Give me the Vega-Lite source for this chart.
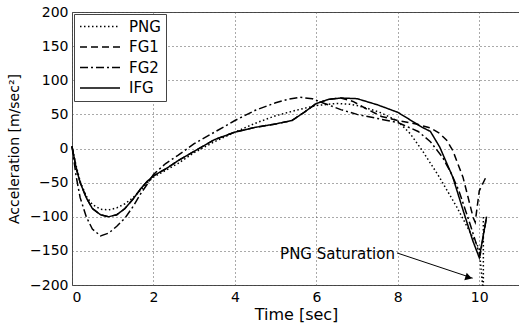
{
  "$schema": "https://vega.github.io/schema/vega-lite/v6.json",
  "width": 448,
  "height": 273,
  "autosize": {"type": "none"},
  "padding": {"left": 72, "top": 12, "right": 0, "bottom": 45},
  "background": "white",
  "config": {
    "view": {"stroke": "#444", "strokeWidth": 1},
    "axis": {
      "grid": true, "gridDash": [1, 3], "gridColor": "#555", "gridOpacity": 1,
      "domain": false, "ticks": false, "labelOverlap": false,
      "labelFont": "DejaVu Sans", "labelFontSize": 14, "labelColor": "black",
      "titleFont": "DejaVu Sans", "titleFontWeight": "normal", "titleColor": "black"
    }
  },
  "datasets": {
    "curves": [
      {"s": "PNG", "i": 1, "t": 0, "a": 3},
      {"s": "PNG", "i": 2, "t": 0.1, "a": -25},
      {"s": "PNG", "i": 3, "t": 0.2, "a": -48},
      {"s": "PNG", "i": 4, "t": 0.35, "a": -70},
      {"s": "PNG", "i": 5, "t": 0.5, "a": -82},
      {"s": "PNG", "i": 6, "t": 0.7, "a": -89},
      {"s": "PNG", "i": 7, "t": 0.9, "a": -90},
      {"s": "PNG", "i": 8, "t": 1.1, "a": -87},
      {"s": "PNG", "i": 9, "t": 1.3, "a": -81},
      {"s": "PNG", "i": 10, "t": 1.5, "a": -72},
      {"s": "PNG", "i": 11, "t": 1.7, "a": -60},
      {"s": "PNG", "i": 12, "t": 1.85, "a": -50},
      {"s": "PNG", "i": 13, "t": 2.0, "a": -42},
      {"s": "PNG", "i": 14, "t": 2.3, "a": -32},
      {"s": "PNG", "i": 15, "t": 2.6, "a": -22},
      {"s": "PNG", "i": 16, "t": 3.0, "a": -6},
      {"s": "PNG", "i": 17, "t": 3.5, "a": 10},
      {"s": "PNG", "i": 18, "t": 4.0, "a": 24},
      {"s": "PNG", "i": 19, "t": 4.5, "a": 37},
      {"s": "PNG", "i": 20, "t": 5.0, "a": 48},
      {"s": "PNG", "i": 21, "t": 5.5, "a": 56},
      {"s": "PNG", "i": 22, "t": 6.0, "a": 63},
      {"s": "PNG", "i": 23, "t": 6.5, "a": 66},
      {"s": "PNG", "i": 24, "t": 6.8, "a": 65},
      {"s": "PNG", "i": 25, "t": 7.0, "a": 63},
      {"s": "PNG", "i": 26, "t": 7.3, "a": 58},
      {"s": "PNG", "i": 27, "t": 7.6, "a": 52},
      {"s": "PNG", "i": 28, "t": 8.0, "a": 40},
      {"s": "PNG", "i": 29, "t": 8.3, "a": 22},
      {"s": "PNG", "i": 30, "t": 8.6, "a": -3},
      {"s": "PNG", "i": 31, "t": 9.0, "a": -40},
      {"s": "PNG", "i": 32, "t": 9.45, "a": -86},
      {"s": "PNG", "i": 33, "t": 9.75, "a": -120},
      {"s": "PNG", "i": 34, "t": 10.0, "a": -147},
      {"s": "PNG", "i": 35, "t": 10.08, "a": -200},
      {"s": "PNG", "i": 36, "t": 10.1, "a": -200},
      {"s": "PNG", "i": 37, "t": 10.1, "a": -100},

      {"s": "FG1", "i": 1, "t": 0, "a": 3},
      {"s": "FG1", "i": 2, "t": 0.1, "a": -28},
      {"s": "FG1", "i": 3, "t": 0.2, "a": -50},
      {"s": "FG1", "i": 4, "t": 0.35, "a": -72},
      {"s": "FG1", "i": 5, "t": 0.5, "a": -88},
      {"s": "FG1", "i": 6, "t": 0.7, "a": -97},
      {"s": "FG1", "i": 7, "t": 0.9, "a": -100},
      {"s": "FG1", "i": 8, "t": 1.1, "a": -97},
      {"s": "FG1", "i": 9, "t": 1.3, "a": -88},
      {"s": "FG1", "i": 10, "t": 1.5, "a": -74},
      {"s": "FG1", "i": 11, "t": 1.7, "a": -58},
      {"s": "FG1", "i": 12, "t": 1.85, "a": -48},
      {"s": "FG1", "i": 13, "t": 2.0, "a": -40},
      {"s": "FG1", "i": 14, "t": 2.3, "a": -30},
      {"s": "FG1", "i": 15, "t": 2.6, "a": -18},
      {"s": "FG1", "i": 16, "t": 3.0, "a": -4},
      {"s": "FG1", "i": 17, "t": 3.5, "a": 13},
      {"s": "FG1", "i": 18, "t": 4.0, "a": 24},
      {"s": "FG1", "i": 19, "t": 4.5, "a": 31},
      {"s": "FG1", "i": 20, "t": 5.0, "a": 36},
      {"s": "FG1", "i": 21, "t": 5.4, "a": 41},
      {"s": "FG1", "i": 22, "t": 5.7, "a": 53},
      {"s": "FG1", "i": 23, "t": 6.0, "a": 66},
      {"s": "FG1", "i": 24, "t": 6.3, "a": 72},
      {"s": "FG1", "i": 25, "t": 6.6, "a": 74},
      {"s": "FG1", "i": 26, "t": 6.9, "a": 69},
      {"s": "FG1", "i": 27, "t": 7.2, "a": 59},
      {"s": "FG1", "i": 28, "t": 7.6, "a": 47},
      {"s": "FG1", "i": 29, "t": 8.0, "a": 41},
      {"s": "FG1", "i": 30, "t": 8.45, "a": 36},
      {"s": "FG1", "i": 31, "t": 8.8, "a": 30},
      {"s": "FG1", "i": 32, "t": 9.03, "a": 22},
      {"s": "FG1", "i": 33, "t": 9.2, "a": 12},
      {"s": "FG1", "i": 34, "t": 9.35, "a": -3},
      {"s": "FG1", "i": 35, "t": 9.6, "a": -42},
      {"s": "FG1", "i": 36, "t": 9.85, "a": -101},
      {"s": "FG1", "i": 37, "t": 9.9, "a": -108},
      {"s": "FG1", "i": 38, "t": 10.0, "a": -62},
      {"s": "FG1", "i": 39, "t": 10.18, "a": -40},

      {"s": "FG2", "i": 1, "t": 0, "a": 3},
      {"s": "FG2", "i": 2, "t": 0.1, "a": -40},
      {"s": "FG2", "i": 3, "t": 0.2, "a": -72},
      {"s": "FG2", "i": 4, "t": 0.35, "a": -100},
      {"s": "FG2", "i": 5, "t": 0.5, "a": -118},
      {"s": "FG2", "i": 6, "t": 0.7, "a": -128},
      {"s": "FG2", "i": 7, "t": 0.9, "a": -124},
      {"s": "FG2", "i": 8, "t": 1.1, "a": -114},
      {"s": "FG2", "i": 9, "t": 1.3, "a": -102},
      {"s": "FG2", "i": 10, "t": 1.5, "a": -85},
      {"s": "FG2", "i": 11, "t": 1.7, "a": -65},
      {"s": "FG2", "i": 12, "t": 1.85, "a": -52},
      {"s": "FG2", "i": 13, "t": 2.0, "a": -38},
      {"s": "FG2", "i": 14, "t": 2.3, "a": -22},
      {"s": "FG2", "i": 15, "t": 2.6, "a": -10},
      {"s": "FG2", "i": 16, "t": 3.0, "a": 7},
      {"s": "FG2", "i": 17, "t": 3.5, "a": 24},
      {"s": "FG2", "i": 18, "t": 4.0, "a": 41},
      {"s": "FG2", "i": 19, "t": 4.5, "a": 56},
      {"s": "FG2", "i": 20, "t": 5.0, "a": 67},
      {"s": "FG2", "i": 21, "t": 5.3, "a": 72},
      {"s": "FG2", "i": 22, "t": 5.6, "a": 75},
      {"s": "FG2", "i": 23, "t": 5.9, "a": 73},
      {"s": "FG2", "i": 24, "t": 6.2, "a": 66},
      {"s": "FG2", "i": 25, "t": 6.6, "a": 57},
      {"s": "FG2", "i": 26, "t": 7.0, "a": 50},
      {"s": "FG2", "i": 27, "t": 7.5, "a": 44},
      {"s": "FG2", "i": 28, "t": 8.0, "a": 38},
      {"s": "FG2", "i": 29, "t": 8.5, "a": 25},
      {"s": "FG2", "i": 30, "t": 8.8, "a": 10},
      {"s": "FG2", "i": 31, "t": 9.1, "a": -13},
      {"s": "FG2", "i": 32, "t": 9.3, "a": -35},
      {"s": "FG2", "i": 33, "t": 9.5, "a": -62},
      {"s": "FG2", "i": 34, "t": 9.77, "a": -110},
      {"s": "FG2", "i": 35, "t": 9.97, "a": -148},
      {"s": "FG2", "i": 36, "t": 10.02, "a": -157},
      {"s": "FG2", "i": 37, "t": 10.18, "a": -100},

      {"s": "IFG", "i": 1, "t": 0, "a": 3},
      {"s": "IFG", "i": 2, "t": 0.1, "a": -28},
      {"s": "IFG", "i": 3, "t": 0.2, "a": -50},
      {"s": "IFG", "i": 4, "t": 0.35, "a": -72},
      {"s": "IFG", "i": 5, "t": 0.5, "a": -88},
      {"s": "IFG", "i": 6, "t": 0.7, "a": -97},
      {"s": "IFG", "i": 7, "t": 0.9, "a": -100},
      {"s": "IFG", "i": 8, "t": 1.1, "a": -97},
      {"s": "IFG", "i": 9, "t": 1.3, "a": -88},
      {"s": "IFG", "i": 10, "t": 1.5, "a": -74},
      {"s": "IFG", "i": 11, "t": 1.7, "a": -58},
      {"s": "IFG", "i": 12, "t": 1.85, "a": -48},
      {"s": "IFG", "i": 13, "t": 2.0, "a": -40},
      {"s": "IFG", "i": 14, "t": 2.3, "a": -30},
      {"s": "IFG", "i": 15, "t": 2.6, "a": -18},
      {"s": "IFG", "i": 16, "t": 3.0, "a": -4},
      {"s": "IFG", "i": 17, "t": 3.5, "a": 13},
      {"s": "IFG", "i": 18, "t": 4.0, "a": 24},
      {"s": "IFG", "i": 19, "t": 4.5, "a": 31},
      {"s": "IFG", "i": 20, "t": 5.0, "a": 36},
      {"s": "IFG", "i": 21, "t": 5.4, "a": 41},
      {"s": "IFG", "i": 22, "t": 5.7, "a": 53},
      {"s": "IFG", "i": 23, "t": 6.0, "a": 66},
      {"s": "IFG", "i": 24, "t": 6.3, "a": 72},
      {"s": "IFG", "i": 25, "t": 6.6, "a": 74},
      {"s": "IFG", "i": 26, "t": 7.0, "a": 73},
      {"s": "IFG", "i": 27, "t": 7.5, "a": 64},
      {"s": "IFG", "i": 28, "t": 8.0, "a": 53},
      {"s": "IFG", "i": 29, "t": 8.6, "a": 31},
      {"s": "IFG", "i": 30, "t": 8.8, "a": 25},
      {"s": "IFG", "i": 31, "t": 9.03, "a": 2},
      {"s": "IFG", "i": 32, "t": 9.35, "a": -42},
      {"s": "IFG", "i": 33, "t": 9.6, "a": -90},
      {"s": "IFG", "i": 34, "t": 9.84, "a": -135},
      {"s": "IFG", "i": 35, "t": 10.0, "a": -160},
      {"s": "IFG", "i": 36, "t": 10.18, "a": -100}
    ],
    "note": [{"t": 7.93, "a": -154, "label": "PNG Saturation"}],
    "arrow": [{"t": 7.98, "a": -153, "t2": 9.84, "a2": -190}],
    "head": [{"t": 9.74, "a": -189}]
  },
  "layer": [
    {
      "data": {"name": "curves"},
      "mark": {"type": "line", "color": "black", "strokeWidth": 1.5},
      "encoding": {
        "x": {"field": "t", "type": "quantitative",
              "scale": {"domain": [0, 11], "nice": false},
              "axis": {"values": [0, 2, 4, 6, 8, 10], "tickCount": 12, "title": "Time [sec]", "titleFontSize": 16, "titleFontWeight": "normal", "labelPadding": 5, "titlePadding": 2}},
        "y": {"field": "a", "type": "quantitative",
              "scale": {"domain": [-200, 200], "nice": false},
              "axis": {"values": [-200, -150, -100, -50, 0, 50, 100, 150, 200], "tickCount": 12, "title": "Acceleration [m/sec²]", "titleFontSize": 14, "titleFontWeight": "normal", "labelPadding": 4, "titlePadding": 8}},
        "strokeDash": {"field": "s", "type": "nominal",
              "scale": {"domain": ["PNG", "FG1", "FG2", "IFG"], "range": [[1.5, 2.5], [7, 4], [8, 3, 2, 3], [1, 0]]},
              "legend": {"title": null, "orient": "none", "legendX": 2, "legendY": 2,
                         "direction": "vertical", "fillColor": "white", "strokeColor": "#444",
                         "padding": 5, "symbolType": "stroke", "symbolSize": 1600,
                         "symbolStrokeWidth": 1.5, "symbolStrokeColor": "black",
                         "clipHeight": 15, "rowPadding": 4.5, "labelOffset": 8,
                         "labelFont": "DejaVu Sans", "labelFontSize": 15, "labelColor": "black"}},
        "order": {"field": "i", "type": "quantitative"}
      }
    },
    {
      "data": {"name": "note"},
      "mark": {"type": "text", "align": "right", "baseline": "middle", "font": "DejaVu Sans", "fontSize": 15, "color": "black"},
      "encoding": {
        "x": {"field": "t", "type": "quantitative"},
        "y": {"field": "a", "type": "quantitative"},
        "text": {"field": "label"}
      }
    },
    {
      "data": {"name": "arrow"},
      "mark": {"type": "rule", "color": "black", "strokeWidth": 1},
      "encoding": {
        "x": {"field": "t", "type": "quantitative"},
        "y": {"field": "a", "type": "quantitative"},
        "x2": {"field": "t2"},
        "y2": {"field": "a2"}
      }
    },
    {
      "data": {"name": "head"},
      "mark": {"type": "point", "shape": "triangle-right", "filled": true, "color": "black", "size": 60, "angle": 18, "opacity": 1},
      "encoding": {
        "x": {"field": "t", "type": "quantitative"},
        "y": {"field": "a", "type": "quantitative"}
      }
    }
  ]
}
